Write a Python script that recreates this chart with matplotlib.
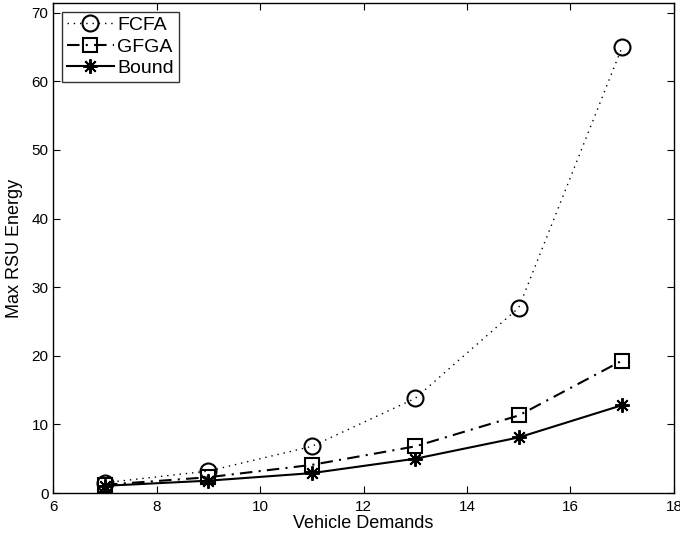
import matplotlib
matplotlib.use("Agg")
import matplotlib.pyplot as plt

demands = [7, 9, 11, 13, 15, 17]
fcfa = [1.5, 3.2, 6.8, 13.8, 27.0, 65.0]
gfga = [1.2, 2.3, 4.1, 6.8, 11.3, 19.3]
bound = [1.05, 1.8, 2.9, 5.0, 8.1, 12.8]
xticks = [6, 8, 10, 12, 14, 16, 18]
yticks = [0, 10, 20, 30, 40, 50, 60, 70]

plt.rcParams['font.family'] = ['Liberation Sans', 'DejaVu Sans']

fig = plt.figure(figsize=(6.8, 5.4), dpi=100)
ax = fig.add_axes([0.0784, 0.087, 0.9126, 0.9074])

ax.plot(demands, fcfa, linestyle=(0, (1, 3.5)), color='black', lw=1.0, marker='o',
        markersize=11.5, markerfacecolor='none', markeredgecolor='black',
        markeredgewidth=1.5, label='FCFA')
ax.plot(demands, gfga, linestyle=(0, (6, 3, 1, 3)), color='black', lw=1.5, marker='s',
        markersize=9.5, markerfacecolor='none', markeredgecolor='black',
        markeredgewidth=1.5, label='GFGA')
ax.plot(demands, bound, linestyle='-', color='black', lw=1.5, marker=(8, 2, 0),
        markersize=10.5, markeredgecolor='black', markeredgewidth=1.4, label='Bound')

ax.set_xlim(6, 18)
ax.set_ylim(0, 71.4)
ax.set_xticks(xticks)
ax.set_yticks(yticks)
ax.tick_params(direction='in', length=5, width=0.8, top=True, right=True,
               labelsize=11)
ax.tick_params(axis='x', pad=5)
for s in ax.spines.values():
    s.set_linewidth(1.0)

ax.set_xlabel('Vehicle Demands', fontsize=13, labelpad=1)
ax.set_ylabel('Max RSU Energy', fontsize=13, labelpad=6)

leg = ax.legend(loc='upper left', fontsize=14, frameon=True, fancybox=False,
                edgecolor='black', borderpad=0.25, labelspacing=0.2,
                handlelength=2.4, handletextpad=0.2, borderaxespad=0.45)
leg.get_frame().set_linewidth(1.0)

fig.savefig('out.png', dpi=100)
